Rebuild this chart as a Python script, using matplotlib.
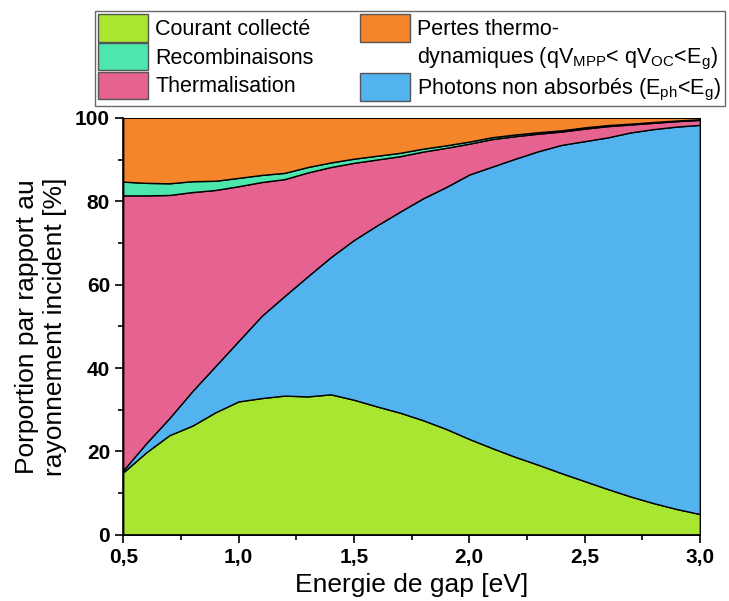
import numpy as np
import matplotlib
matplotlib.use("Agg")
import matplotlib.pyplot as plt
from matplotlib.patches import Patch
from matplotlib.ticker import MultipleLocator

plt.rcParams['font.family'] = ['Liberation Sans', 'DejaVu Sans']
plt.rcParams['mathtext.fontset'] = 'custom'
plt.rcParams['mathtext.rm'] = 'Liberation Sans'
plt.rcParams['mathtext.it'] = 'Liberation Sans'

# Energie de gap [eV]
energie = [0.5, 0.6, 0.7, 0.8, 0.9, 1.0, 1.1, 1.2, 1.3, 1.4, 1.5, 1.6, 1.7,
           1.8, 1.9, 2.0, 2.1, 2.2, 2.3, 2.4, 2.5, 2.6, 2.7, 2.8, 2.9, 3.0]

# parts of the incident radiation [%]
courant = [15.0, 19.8, 23.9, 26.2, 29.4, 32.0, 32.8, 33.4, 33.2, 33.7, 32.4, 30.8, 29.3,
           27.5, 25.4, 23.0, 20.8, 18.7, 16.8, 14.8, 12.9, 11.0, 9.2, 7.6, 6.2, 5.0]
photons = [0.5, 2.2, 4.1, 8.3, 11.1, 14.5, 19.7, 23.9, 28.8, 32.9, 38.3, 43.4, 48.2,
           53.2, 58.0, 63.4, 67.5, 71.5, 75.2, 78.7, 81.5, 84.3, 87.3, 89.7, 91.7, 93.3]
thermal = [65.9, 59.4, 53.5, 47.7, 42.2, 37.1, 32.1, 28.0, 24.9, 21.6, 18.5, 15.8, 13.3,
           11.2, 9.4, 7.4, 6.6, 5.4, 4.2, 3.2, 3.0, 2.7, 1.9, 1.5, 1.3, 1.2]
recomb = [3.3, 3.0, 2.8, 2.6, 2.2, 2.0, 1.7, 1.5, 1.3, 1.1, 1.0, 0.9, 0.8,
          0.7, 0.6, 0.5, 0.45, 0.4, 0.35, 0.3, 0.3, 0.25, 0.2, 0.2, 0.15, 0.15]
# thermodynamic losses fill up to 100 %
pertes = list(100 - np.array(courant) - np.array(photons) - np.array(thermal) - np.array(recomb))

colors = ['#a8e632', '#52b3ef', '#e66291', '#4de6ad', '#f5852a']

fig = plt.figure(figsize=[7.29, 6.01], dpi=100)
ax = fig.add_axes([0.169, 0.110, 0.791, 0.694])

ax.stackplot(energie, courant, photons, thermal, recomb, pertes,
             colors=colors, edgecolor='black', linewidth=1.0)

ax.set_xlim(0.5, 3.0)
ax.set_ylim(0, 100)
ax.spines['top'].set_visible(False)
ax.spines['right'].set_visible(False)
ax.spines['left'].set_linewidth(1.2)
ax.spines['bottom'].set_linewidth(1.2)

ax.set_xticks([0.5, 1.0, 1.5, 2.0, 2.5, 3.0])
ax.set_xticklabels(['0,5', '1,0', '1,5', '2,0', '2,5', '3,0'])
ax.xaxis.set_minor_locator(MultipleLocator(0.25))
ax.set_yticks([0, 20, 40, 60, 80, 100])
ax.yaxis.set_minor_locator(MultipleLocator(10))
ax.tick_params(which='major', direction='out', length=6, width=1.2, labelsize=15)
ax.tick_params(which='minor', direction='out', length=3.5, width=1.2)
for lab in ax.get_xticklabels() + ax.get_yticklabels():
    lab.set_fontweight('bold')

ax.set_xlabel('Energie de gap [eV]', fontsize=19, labelpad=4)
ax.set_ylabel('Porportion par rapport au\nrayonnement incident [%]', fontsize=19, labelpad=6)

# legend, with a blank entry so the two-line label keeps its patch on the first line
handles = [Patch(facecolor=colors[0], edgecolor='#555555'),
           Patch(facecolor=colors[3], edgecolor='#555555'),
           Patch(facecolor=colors[2], edgecolor='#555555'),
           Patch(facecolor=colors[4], edgecolor='#555555'),
           Patch(facecolor='none', edgecolor='none'),
           Patch(facecolor=colors[1], edgecolor='#555555')]
labels = ['Courant collecté', 'Recombinaisons', 'Thermalisation',
          'Pertes thermo-',
          r'dynamiques (qV$_{\mathrm{MPP}}$< qV$_{\mathrm{OC}}$<E$_{\mathrm{g}}$)',
          r'Photons non absorbés (E$_{\mathrm{ph}}$<E$_{\mathrm{g}}$)']
leg = fig.legend(handles, labels, ncol=2, loc='upper left',
                 bbox_to_anchor=(0.130, 0.825, 0.864, 0.157), mode='expand',
                 fontsize=15.5, handlelength=2.3, handleheight=1.6,
                 handletextpad=0.35, columnspacing=1.5, labelspacing=0.05,
                 borderpad=0.15, fancybox=False, edgecolor='#444444',
                 borderaxespad=0)
leg.get_frame().set_linewidth(1.0)

plt.savefig('out.png', dpi=100)
